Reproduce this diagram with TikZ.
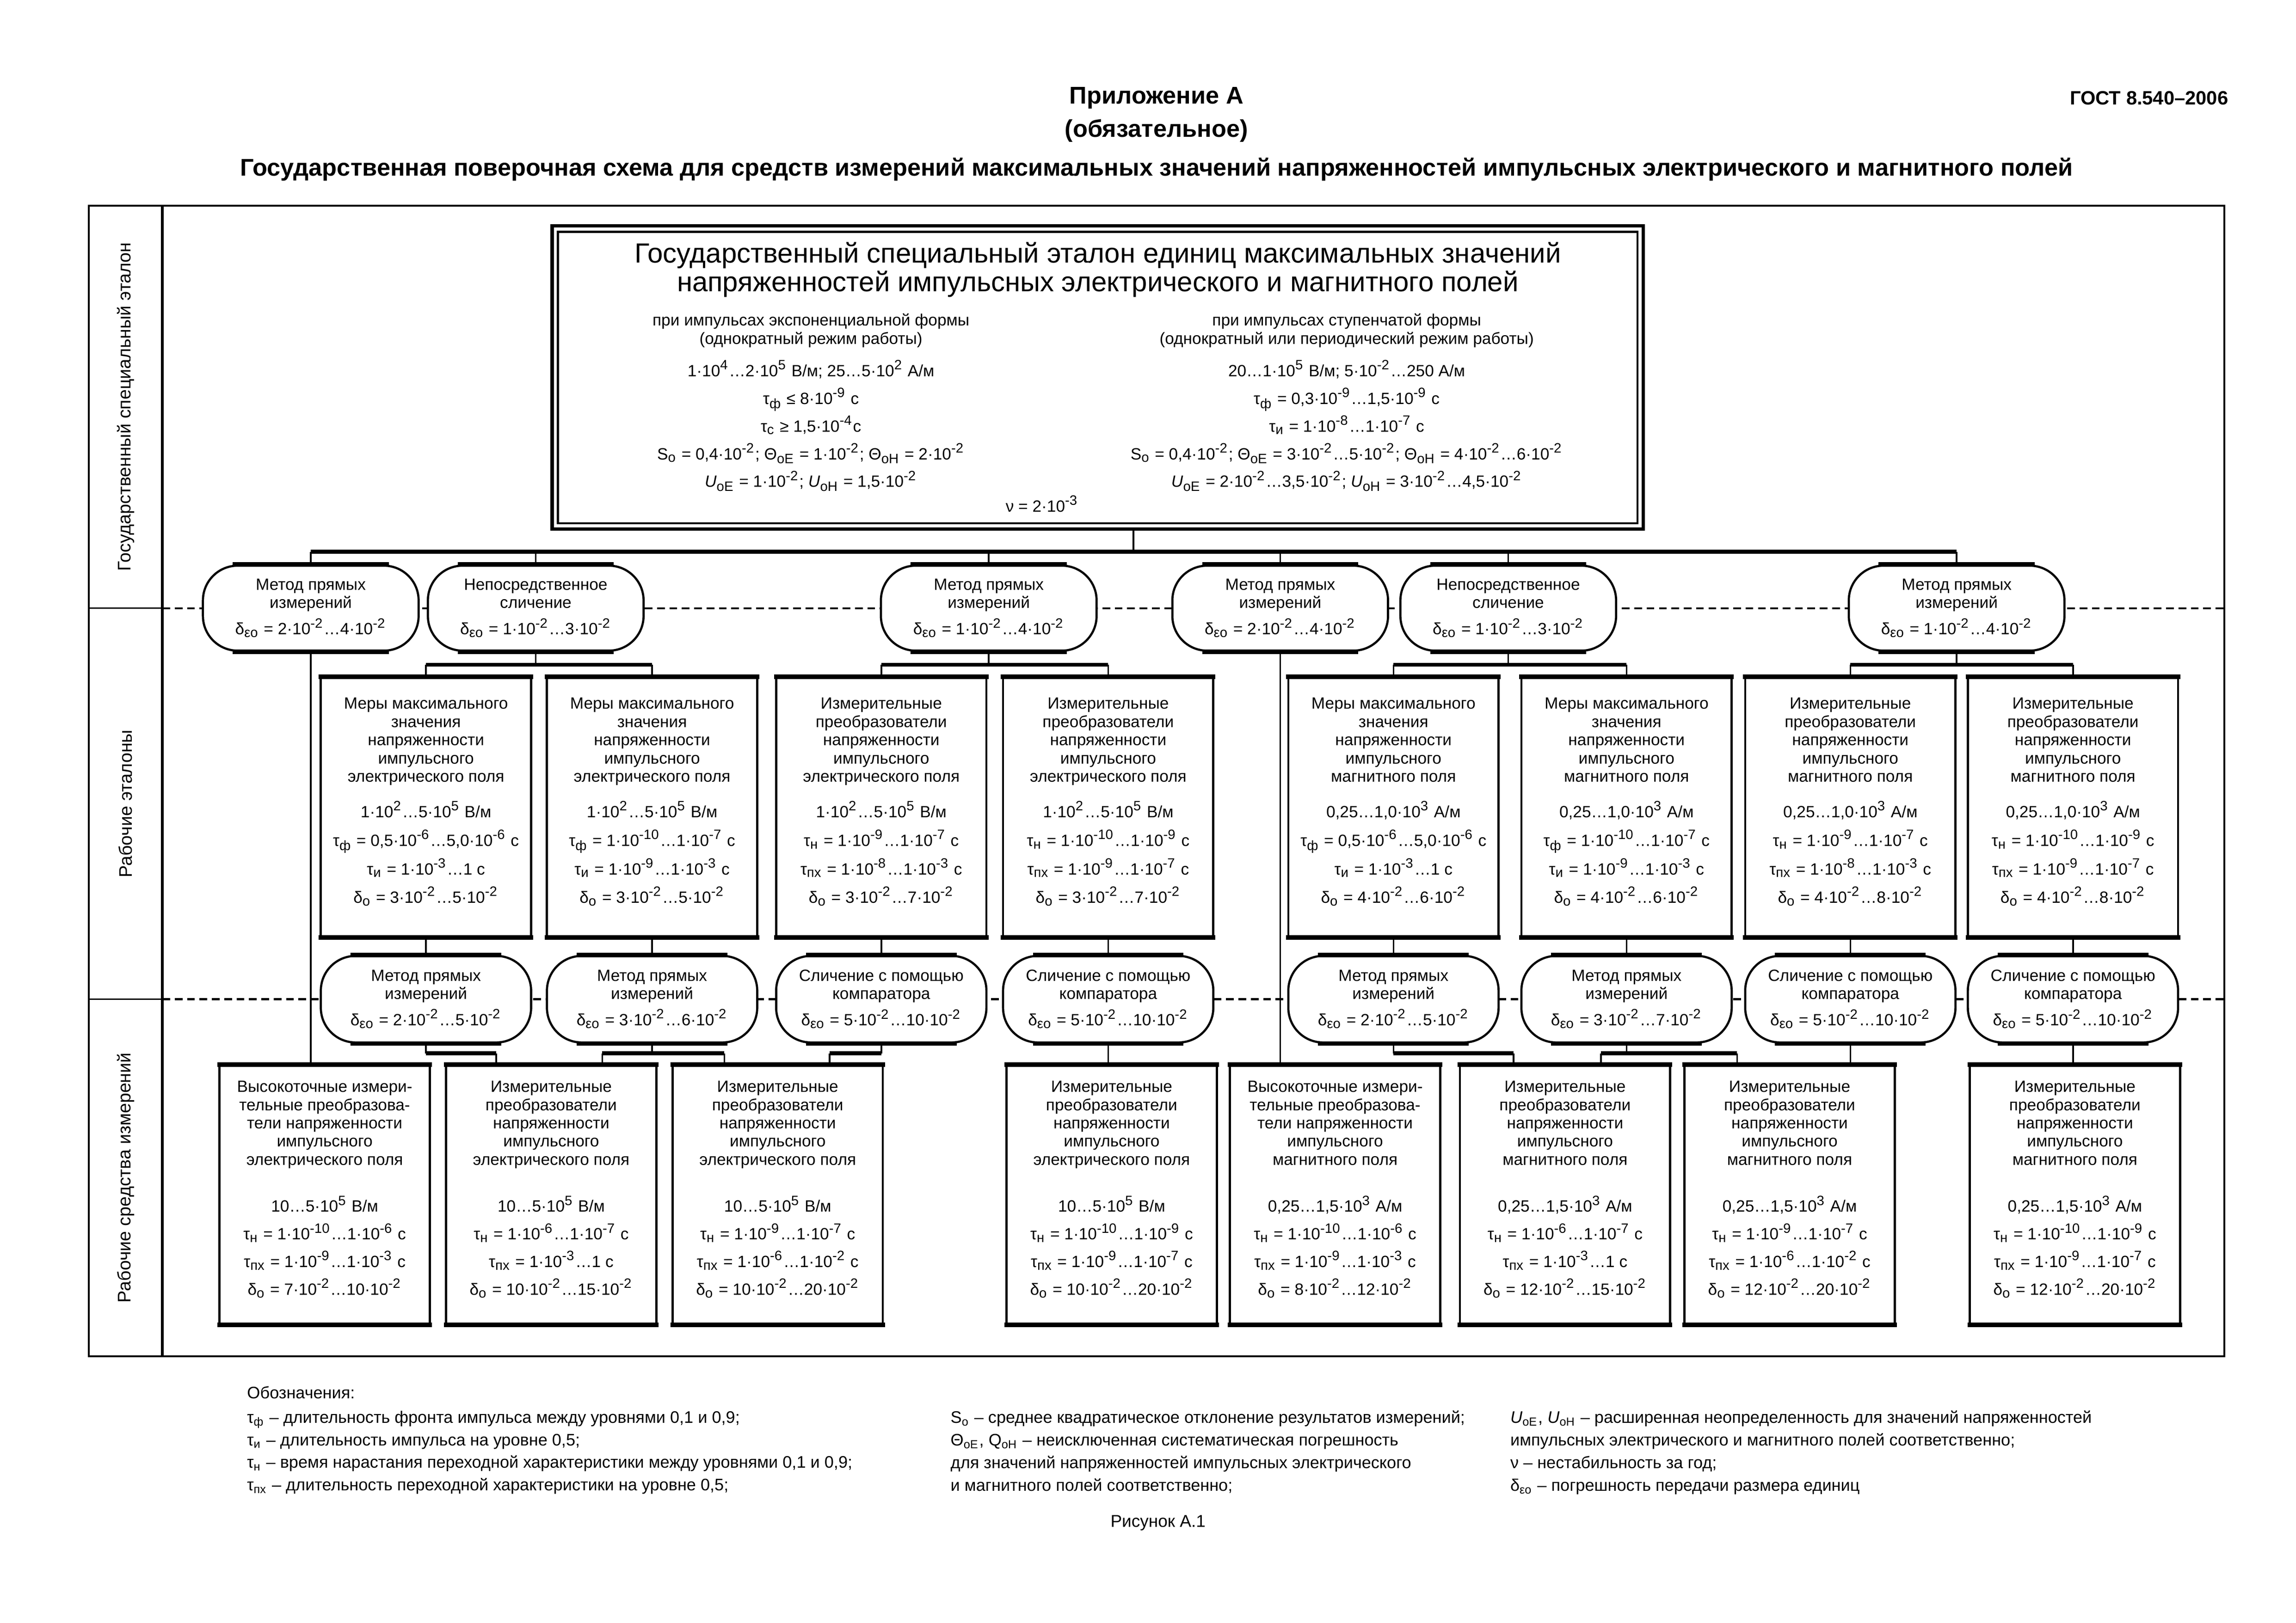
\documentclass[tikz,border=0pt]{standalone}
\usepackage{fontspec}
\setmainfont{Liberation Sans}
\usetikzlibrary{calc}
\newcommand\supx[1]{\textsuperscript{#1}}
\newcommand\subx[1]{\textsubscript{#1}}
\newcommand\fsm{\fontsize{6}{6.7}\selectfont\lineskiplimit=-100pt\relax}
\newcommand\fcol{\fontsize{6}{6.8}\selectfont\lineskiplimit=-100pt\relax}
\newcommand\fmt{\fontsize{10.2}{10.5}\selectfont\lineskiplimit=-100pt\relax}
\newcommand\flab{\fontsize{6.7}{8}\selectfont}
\newcommand\fleg{\fontsize{6.15}{8.3}\selectfont\lineskiplimit=-100pt\relax}
\newcommand\fttl{\fontsize{8.9}{10}\selectfont\bfseries}
\newcommand\tMerE{Меры максимального\\значения\\напряженности\\импульсного\\электрического поля}
\newcommand\tMerH{Меры максимального\\значения\\напряженности\\импульсного\\магнитного поля}
\newcommand\tIzmE{Измерительные\\преобразователи\\напряженности\\импульсного\\электрического поля}
\newcommand\tIzmH{Измерительные\\преобразователи\\напряженности\\импульсного\\магнитного поля}
\newcommand\tVysE{Высокоточные измери-\\тельные преобразова-\\тели напряженности\\импульсного\\электрического поля}
\newcommand\tVysH{Высокоточные измери-\\тельные преобразова-\\тели напряженности\\импульсного\\магнитного поля}
\newcommand\tMet{Метод прямых\\измерений}
\newcommand\tNep{Непосредственное\\сличение}
\newcommand\tSli{Сличение с помощью\\компаратора}
\newcommand\wvals[4]{\\[6.45pt]#1\\[3.8pt]#2\\[3.8pt]#3\\[3.8pt]#4\rule[-4.9pt]{0pt}{0pt}}
\newcommand\bvals[4]{\\[10.6pt]#1\\[3.5pt]#2\\[3.5pt]#3\\[3.5pt]#4\rule[-4.9pt]{0pt}{0pt}}
\newcommand\dlt[1]{\\[3pt]δ\subx{εо} = #1}
\tikzset{
  conn/.style={line width=0.6pt},
  busline/.style={line width=1.4pt},
  edge tb/.style={line width=1.7pt},
  frame/.style={line width=0.7pt},
  divdash/.style={line width=0.7pt, dash pattern=on 1mm off 0.6mm},
  wbox/.style={draw, line width=0.8pt, minimum width=27.2mm, minimum height=33.5mm, inner sep=0pt, align=center, font=\fsm},
  bxbox/.style={draw, line width=0.8pt, minimum width=27.2mm, minimum height=33.4mm, inner sep=0pt, align=center, font=\fsm},
  ovalO/.style={draw, fill=white, line width=0.8pt, rounded corners=4.5mm, minimum width=27.9mm, minimum height=11mm, inner sep=0pt, align=center, font=\fsm},
  ovalP/.style={draw, fill=white, line width=0.8pt, rounded corners=4.5mm, minimum width=27.2mm, minimum height=11.2mm, inner sep=0pt, align=center, font=\fsm},
  txt/.style={inner sep=0pt, align=center},
}
\begin{document}
\begin{tikzpicture}[x=1mm,y=-1mm]
\useasboundingbox (0,0) rectangle (297,210);
% titles
\node[txt, font=\fttl] (T1) at (149.6,12.7) {Приложение А};
\node[txt, font=\fttl] (T2) at (149.6,16.9) {(обязательное)};
\node[txt, font=\fttl] (T3) at (149.6,21.9) {Государственная поверочная схема для средств измерений максимальных значений напряженностей импульсных электрического и магнитного полей};
\node[txt, anchor=east, font=\fontsize{7.1}{8}\selectfont\bfseries] (TG) at (288.3,12.7) {ГОСТ 8.540–2006};
% frame
\draw[frame] (11.5,26.6) rectangle (287.7,175.5);
\draw[line width=1.1pt] (21,26.6) -- (21,175.5);
\draw[conn] (11.5,78.7) -- (21,78.7) (11.5,129.3) -- (21,129.3);
\draw[divdash] (21,78.7) -- (287.7,78.7);
\draw[divdash] (21,129.3) -- (287.7,129.3);
\node[txt, rotate=90, font=\flab] (L1) at (16.25,52.65) {Государственный специальный эталон};
\node[txt, rotate=90, font=\flab] (L2) at (16.25,104) {Рабочие эталоны};
\node[txt, rotate=90, font=\flab] (L3) at (16.25,152.4) {Рабочие средства измерений};
% main standard
\node[minimum width=141mm, minimum height=39.1mm, inner sep=0pt] (M) at (142,48.85) {};
\draw[line width=1.3pt] (M.north west) rectangle (M.south east);
\draw[line width=0.8pt] ([shift={(0.75,0.75)}]M.north west) rectangle ([shift={(-0.75,-0.75)}]M.south east);
\node[txt, anchor=north, font=\fmt] (MT) at (142,31.3) {Государственный специальный эталон единиц максимальных значений\\напряженностей импульсных электрического и магнитного полей};
\node[txt, anchor=north, font=\fcol] (ML) at (104.9,40.5) {при импульсах экспоненциальной формы\\(однократный режим работы)\\[5.1pt]
1·10\supx{4}…2·10\supx{5} В/м; 25…5·10\supx{2} А/м\\[3.4pt]
τ\subx{ф} ≤ 8·10\supx{-9} с\\[3.4pt]
τ\subx{с} ≥ 1,5·10\supx{-4}с\\[3.4pt]
S\subx{о} = 0,4·10\supx{-2}; Θ\subx{оЕ} = 1·10\supx{-2}; Θ\subx{оН} = 2·10\supx{-2}\\[3.4pt]
\textit{U}\subx{оЕ} = 1·10\supx{-2}; \textit{U}\subx{оН} = 1,5·10\supx{-2}};
\node[txt, anchor=north, font=\fcol] (MR) at (174.2,40.5) {при импульсах ступенчатой формы\\(однократный или периодический режим работы)\\[5.1pt]
20…1·10\supx{5} В/м; 5·10\supx{-2}…250 А/м\\[3.4pt]
τ\subx{ф} = 0,3·10\supx{-9}…1,5·10\supx{-9} с\\[3.4pt]
τ\subx{и} = 1·10\supx{-8}…1·10\supx{-7} с\\[3.4pt]
S\subx{о} = 0,4·10\supx{-2}; Θ\subx{оЕ} = 3·10\supx{-2}…5·10\supx{-2}; Θ\subx{оН} = 4·10\supx{-2}…6·10\supx{-2}\\[3.4pt]
\textit{U}\subx{оЕ} = 2·10\supx{-2}…3,5·10\supx{-2}; \textit{U}\subx{оН} = 3·10\supx{-2}…4,5·10\supx{-2}};
\node[txt, font=\fcol] (MN) at (134.8,65.2) {ν = 2·10\supx{-3}};
% first-level ovals
\node[ovalO] (O1) at (40.2,78.7) {\tMet\dlt{2·10\supx{-2}…4·10\supx{-2}}};
\node[ovalO] (O2) at (69.3,78.7) {\tNep\dlt{1·10\supx{-2}…3·10\supx{-2}}};
\node[ovalO] (O3) at (127.9,78.7) {\tMet\dlt{1·10\supx{-2}…4·10\supx{-2}}};
\node[ovalO] (O4) at (165.6,78.7) {\tMet\dlt{2·10\supx{-2}…4·10\supx{-2}}};
\node[ovalO] (O5) at (195.1,78.7) {\tNep\dlt{1·10\supx{-2}…3·10\supx{-2}}};
\node[ovalO] (O6) at (253.1,78.7) {\tMet\dlt{1·10\supx{-2}…4·10\supx{-2}}};
% working standards
\node[wbox] (W1) at (55.1,104.45) {\tMerE\wvals{1·10\supx{2}…5·10\supx{5} В/м}{τ\subx{ф} = 0,5·10\supx{-6}…5,0·10\supx{-6} с}{τ\subx{и} = 1·10\supx{-3}…1 с}{δ\subx{о} = 3·10\supx{-2}…5·10\supx{-2}}};
\node[wbox] (W2) at (84.35,104.45) {\tMerE\wvals{1·10\supx{2}…5·10\supx{5} В/м}{τ\subx{ф} = 1·10\supx{-10}…1·10\supx{-7} с}{τ\subx{и} = 1·10\supx{-9}…1·10\supx{-3} с}{δ\subx{о} = 3·10\supx{-2}…5·10\supx{-2}}};
\node[wbox] (W3) at (114,104.45) {\tIzmE\wvals{1·10\supx{2}…5·10\supx{5} В/м}{τ\subx{н} = 1·10\supx{-9}…1·10\supx{-7} с}{τ\subx{пх} = 1·10\supx{-8}…1·10\supx{-3} с}{δ\subx{о} = 3·10\supx{-2}…7·10\supx{-2}}};
\node[wbox] (W4) at (143.35,104.45) {\tIzmE\wvals{1·10\supx{2}…5·10\supx{5} В/м}{τ\subx{н} = 1·10\supx{-10}…1·10\supx{-9} с}{τ\subx{пх} = 1·10\supx{-9}…1·10\supx{-7} с}{δ\subx{о} = 3·10\supx{-2}…7·10\supx{-2}}};
\node[wbox] (W5) at (180.25,104.45) {\tMerH\wvals{0,25…1,0·10\supx{3} А/м}{τ\subx{ф} = 0,5·10\supx{-6}…5,0·10\supx{-6} с}{τ\subx{и} = 1·10\supx{-3}…1 с}{δ\subx{о} = 4·10\supx{-2}…6·10\supx{-2}}};
\node[wbox] (W6) at (210.4,104.45) {\tMerH\wvals{0,25…1,0·10\supx{3} А/м}{τ\subx{ф} = 1·10\supx{-10}…1·10\supx{-7} с}{τ\subx{и} = 1·10\supx{-9}…1·10\supx{-3} с}{δ\subx{о} = 4·10\supx{-2}…6·10\supx{-2}}};
\node[wbox] (W7) at (239.35,104.45) {\tIzmH\wvals{0,25…1,0·10\supx{3} А/м}{τ\subx{н} = 1·10\supx{-9}…1·10\supx{-7} с}{τ\subx{пх} = 1·10\supx{-8}…1·10\supx{-3} с}{δ\subx{о} = 4·10\supx{-2}…8·10\supx{-2}}};
\node[wbox] (W8) at (268.15,104.45) {\tIzmH\wvals{0,25…1,0·10\supx{3} А/м}{τ\subx{н} = 1·10\supx{-10}…1·10\supx{-9} с}{τ\subx{пх} = 1·10\supx{-9}…1·10\supx{-7} с}{δ\subx{о} = 4·10\supx{-2}…8·10\supx{-2}}};
% second-level ovals
\node[ovalP] (P1) at (55.1,129.3) {\tMet\dlt{2·10\supx{-2}…5·10\supx{-2}}};
\node[ovalP] (P2) at (84.35,129.3) {\tMet\dlt{3·10\supx{-2}…6·10\supx{-2}}};
\node[ovalP] (P3) at (114,129.3) {\tSli\dlt{5·10\supx{-2}…10·10\supx{-2}}};
\node[ovalP] (P4) at (143.35,129.3) {\tSli\dlt{5·10\supx{-2}…10·10\supx{-2}}};
\node[ovalP] (P5) at (180.25,129.3) {\tMet\dlt{2·10\supx{-2}…5·10\supx{-2}}};
\node[ovalP] (P6) at (210.4,129.3) {\tMet\dlt{3·10\supx{-2}…7·10\supx{-2}}};
\node[ovalP] (P7) at (239.35,129.3) {\tSli\dlt{5·10\supx{-2}…10·10\supx{-2}}};
\node[ovalP] (P8) at (268.15,129.3) {\tSli\dlt{5·10\supx{-2}…10·10\supx{-2}}};
% working measuring instruments
\node[bxbox] (B1) at (42,154.6) {\tVysE\bvals{10…5·10\supx{5} В/м}{τ\subx{н} = 1·10\supx{-10}…1·10\supx{-6} с}{τ\subx{пх} = 1·10\supx{-9}…1·10\supx{-3} с}{δ\subx{о} = 7·10\supx{-2}…10·10\supx{-2}}};
\node[bxbox] (B2) at (71.3,154.6) {\tIzmE\bvals{10…5·10\supx{5} В/м}{τ\subx{н} = 1·10\supx{-6}…1·10\supx{-7} с}{τ\subx{пх} = 1·10\supx{-3}…1 с}{δ\subx{о} = 10·10\supx{-2}…15·10\supx{-2}}};
\node[bxbox] (B3) at (100.6,154.6) {\tIzmE\bvals{10…5·10\supx{5} В/м}{τ\subx{н} = 1·10\supx{-9}…1·10\supx{-7} с}{τ\subx{пх} = 1·10\supx{-6}…1·10\supx{-2} с}{δ\subx{о} = 10·10\supx{-2}…20·10\supx{-2}}};
\node[bxbox] (B4) at (143.8,154.6) {\tIzmE\bvals{10…5·10\supx{5} В/м}{τ\subx{н} = 1·10\supx{-10}…1·10\supx{-9} с}{τ\subx{пх} = 1·10\supx{-9}…1·10\supx{-7} с}{δ\subx{о} = 10·10\supx{-2}…20·10\supx{-2}}};
\node[bxbox] (B5) at (172.7,154.6) {\tVysH\bvals{0,25…1,5·10\supx{3} А/м}{τ\subx{н} = 1·10\supx{-10}…1·10\supx{-6} с}{τ\subx{пх} = 1·10\supx{-9}…1·10\supx{-3} с}{δ\subx{о} = 8·10\supx{-2}…12·10\supx{-2}}};
\node[bxbox] (B6) at (202.45,154.6) {\tIzmH\bvals{0,25…1,5·10\supx{3} А/м}{τ\subx{н} = 1·10\supx{-6}…1·10\supx{-7} с}{τ\subx{пх} = 1·10\supx{-3}…1 с}{δ\subx{о} = 12·10\supx{-2}…15·10\supx{-2}}};
\node[bxbox] (B7) at (231.5,154.6) {\tIzmH\bvals{0,25…1,5·10\supx{3} А/м}{τ\subx{н} = 1·10\supx{-9}…1·10\supx{-7} с}{τ\subx{пх} = 1·10\supx{-6}…1·10\supx{-2} с}{δ\subx{о} = 12·10\supx{-2}…20·10\supx{-2}}};
\node[bxbox] (B8) at (268.4,154.6) {\tIzmH\bvals{0,25…1,5·10\supx{3} А/м}{τ\subx{н} = 1·10\supx{-10}…1·10\supx{-9} с}{τ\subx{пх} = 1·10\supx{-9}…1·10\supx{-7} с}{δ\subx{о} = 12·10\supx{-2}…20·10\supx{-2}}};
% thick top and bottom edges
\foreach \n in {W1,W2,W3,W4,W5,W6,W7,W8,B1,B2,B3,B4,B5,B6,B7,B8}
  \draw[edge tb] ([xshift=-0.4pt]\n.north west) -- ([xshift=0.4pt]\n.north east)
                 ([xshift=-0.4pt]\n.south west) -- ([xshift=0.4pt]\n.south east);
\foreach \n in {O1,O2,O3,O4,O5,O6,P1,P2,P3,P4,P5,P6,P7,P8}
  \draw[edge tb] ([xshift=4mm]\n.north west) -- ([xshift=-4mm]\n.north east)
                 ([xshift=4mm]\n.south west) -- ([xshift=-4mm]\n.south east);
% connectors
\coordinate (mbus) at (146.6,71.4);
\coordinate (br) at (0,86.0);
\coordinate (pb) at (0,136.3);
\draw[conn] (M.south -| mbus) -- (mbus);
\draw[busline] (O1.north |- mbus) -- (O6.north |- mbus);
\foreach \n in {O1,O2,O3,O4,O5,O6} \draw[conn] (\n.north) -- (\n.north |- mbus);
\draw[conn] (O1.south) -- (O1.south |- B1.north);
\draw[conn] (O4.south) -- (O4.south |- B5.north);
\foreach \o/\a/\b in {O2/W1/W2, O3/W3/W4, O5/W5/W6, O6/W7/W8} {
  \draw[conn] (\o.south) -- (\o.south |- br);
  \draw[busline] (\a.north |- br) -- (\b.north |- br);
  \draw[conn] (\a.north |- br) -- (\a.north);
  \draw[conn] (\b.north |- br) -- (\b.north);
}
\foreach \w/\p in {W1/P1,W2/P2,W3/P3,W4/P4,W5/P5,W6/P6,W7/P7,W8/P8}
  \draw[conn] (\w.south) -- (\p.north);
\coordinate (c1) at (64.2,136.3);
\coordinate (c2a) at (77.9,136.3);
\coordinate (c2b) at (93.7,136.3);
\coordinate (c3) at (107.3,136.3);
\coordinate (c5) at (195.8,136.3);
\coordinate (c6a) at (207.1,136.3);
\coordinate (c6b) at (224.7,136.3);
\foreach \p in {P1,P2,P3,P5,P6} \draw[conn] (\p.south) -- (\p.south |- pb);
\draw[busline] (P1.south |- pb) -- (c1);
\draw[busline] (c2a) -- (c2b);
\draw[busline] (c3) -- (P3.south |- pb);
\draw[busline] (P5.south |- pb) -- (c5);
\draw[busline] (c6a) -- (c6b);
\draw[conn] (c1) -- (c1 |- B2.north);
\draw[conn] (c2a) -- (c2a |- B2.north);
\draw[conn] (c2b) -- (c2b |- B3.north);
\draw[conn] (c3) -- (c3 |- B3.north);
\draw[conn] (c5) -- (c5 |- B6.north);
\draw[conn] (c6a) -- (c6a |- B6.north);
\draw[conn] (c6b) -- (c6b |- B7.north);
\draw[conn] (P4.south) -- (P4.south |- B4.north);
\draw[conn] (P7.south) -- (P7.south |- B7.north);
\draw[conn] (P8.south) -- (P8.south |- B8.north);
% legend
\node[txt, anchor=west, font=\fleg] (LH) at (31.9,180.2) {Обозначения:};
\node[txt, anchor=north west, align=left, font=\fleg] (LC1) at (31.9,182.5) {τ\subx{ф} – длительность фронта импульса между уровнями 0,1 и 0,9;\\
τ\subx{и} – длительность импульса на уровне 0,5;\\
τ\subx{н} – время нарастания переходной характеристики между уровнями 0,1 и 0,9;\\
τ\subx{пх} – длительность переходной характеристики на уровне 0,5;};
\node[txt, anchor=north west, align=left, font=\fleg] (LC2) at (122.9,182.5) {S\subx{о} – среднее квадратическое отклонение результатов измерений;\\
Θ\subx{оЕ}, Q\subx{оН} – неисключенная систематическая погрешность\\
для значений напряженностей импульсных электрического\\
и магнитного полей соответственно;};
\node[txt, anchor=north west, align=left, font=\fleg] (LC3) at (195.3,182.5) {\textit{U}\subx{оЕ}, \textit{U}\subx{оН} – расширенная неопределенность для значений напряженностей\\
импульсных электрического и магнитного полей соответственно;\\
ν – нестабильность за год;\\
δ\subx{εо} – погрешность передачи размера единиц};
\node[txt, font=\fontsize{6.3}{7}\selectfont] (FIG) at (149.8,197.1) {Рисунок А.1};
\end{tikzpicture}
\end{document}
